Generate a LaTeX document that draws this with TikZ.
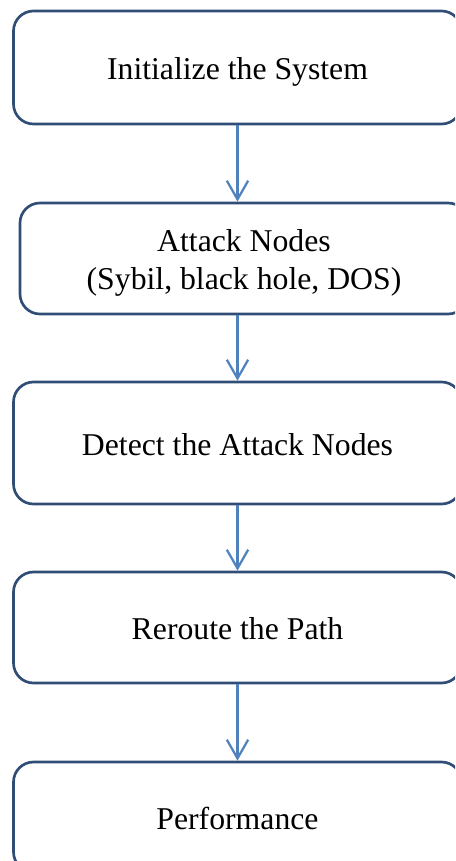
\documentclass[tikz,border=0pt]{standalone}
\usepackage{fontspec}
\setmainfont{Liberation Serif}
\usepackage{xcolor}
\usetikzlibrary{arrows.meta}
\definecolor{boxline}{HTML}{2F4D75}
\definecolor{flowline}{HTML}{4F81BD}

\begin{document}
\begin{tikzpicture}[x=0.75pt, y=-0.75pt,
    stage/.style={rectangle, draw=boxline, line width=2pt, rounded corners=15pt, minimum width=336pt, align=center, inner sep=0pt, text height=18.1pt, text depth=0pt, font=\fontsize{23.8}{28.5}\selectfont}, flow/.style={-{Straight Barb[length=14pt, width=16pt]}, draw=flowline, line width=1.7pt}
]
\useasboundingbox (0,0) rectangle (455,861);
\clip (0,0) rectangle (455,861);
\node[stage, minimum height=84.75pt] (init) at (237.5,67.5) {Initialize the System};
\node[stage, minimum height=83.25pt, text height=46.6pt] (attack) at (244,258.5) {Attack Nodes\\(Sybil, black hole, DOS)};
\node[stage, minimum height=91.5pt] (detect) at (237.5,443) {Detect the Attack Nodes};
\node[stage, minimum height=83.25pt] (reroute) at (237.5,627.5) {Reroute the Path};
\node[stage, minimum height=82.5pt] (perf) at (237.5,817) {Performance};
\draw[flow] (init.south) -- (init.south |- attack.north);
\draw[flow] (init.south |- attack.south) -- (init.south |- detect.north);
\draw[flow] (detect.south) -- (reroute.north);
\draw[flow] (reroute.south) -- (perf.north);
\end{tikzpicture}
\end{document}
